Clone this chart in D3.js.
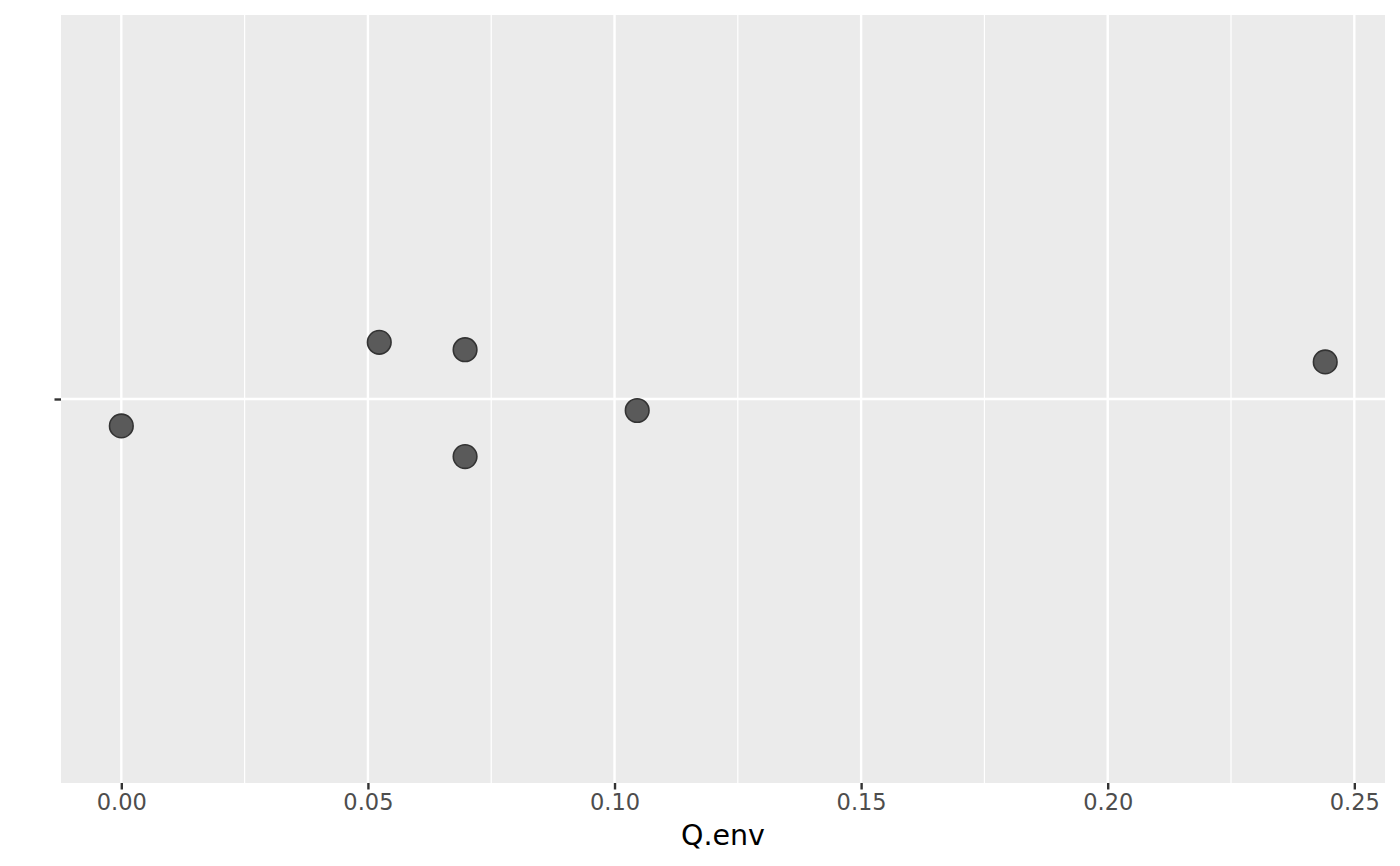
<!DOCTYPE html>
<html>
<head>
<meta charset="utf-8">
<script src="https://cdn.jsdelivr.net/npm/d3@7"></script>
<style>
  html, body { margin: 0; padding: 0; background: #ffffff; }
  svg { display: block; }
</style>
</head>
<body>
<svg id="chart" width="1400" height="866"></svg>
<script>
// ---- data ----
const qEnv = [0.0000, 0.0523, 0.0697, 0.0697, 0.1046, 0.2441];
const jitterY = [0.958, 1.0886, 1.077, 0.910, 0.982, 1.058];
const xTicks = [0.00, 0.05, 0.10, 0.15, 0.20, 0.25];
const xMinorTicks = [0.025, 0.075, 0.125, 0.175, 0.225];
const yCategories = [""];
const xTitle = "Q.env";

// ---- layout ----
const W = 1400, H = 866;
const panel = { left: 61, right: 1385, top: 15, bottom: 783 };

const svg = d3.select("#chart");

const x = d3.scaleLinear().domain([-0.01223, 0.25622]).range([panel.left, panel.right]);
const y = d3.scaleLinear().domain([0.4, 1.6]).range([panel.bottom, panel.top]);

// panel background
svg.append("rect")
  .attr("x", panel.left).attr("y", panel.top)
  .attr("width", panel.right - panel.left).attr("height", panel.bottom - panel.top)
  .attr("fill", "#ebebeb");

// minor grid
svg.append("g").selectAll("line").data(xMinorTicks).join("line")
  .attr("x1", d => x(d)).attr("x2", d => x(d))
  .attr("y1", panel.top).attr("y2", panel.bottom)
  .attr("stroke", "#ffffff").attr("stroke-width", 1.2);

// major grid
svg.append("g").selectAll("line").data(xTicks).join("line")
  .attr("x1", d => x(d)).attr("x2", d => x(d))
  .attr("y1", panel.top).attr("y2", panel.bottom)
  .attr("stroke", "#ffffff").attr("stroke-width", 2.4);

svg.append("g").selectAll("line").data(yCategories).join("line")
  .attr("x1", panel.left).attr("x2", panel.right)
  .attr("y1", () => y(1)).attr("y2", () => y(1))
  .attr("stroke", "#ffffff").attr("stroke-width", 2.4);

// x axis
const xAxis = d3.axisBottom(x).tickValues(xTicks).tickFormat(d3.format(".2f")).tickSize(6.5).tickPadding(5);
const gx = svg.append("g").attr("transform", `translate(0,${panel.bottom})`).call(xAxis);
gx.select(".domain").remove();
gx.selectAll(".tick line").attr("stroke", "#333333").attr("stroke-width", 2.4);
gx.selectAll(".tick text")
  .attr("fill", "#4d4d4d")
  .style("font-family", "DejaVu Sans, sans-serif")
  .style("font-size", "22.5px");

// y axis (single discrete category with empty label)
const yAxis = d3.axisLeft(y).tickValues([1]).tickFormat((d, i) => yCategories[i]).tickSize(6.5);
const gy = svg.append("g").attr("transform", `translate(${panel.left},0)`).call(yAxis);
gy.select(".domain").remove();
gy.selectAll(".tick line").attr("stroke", "#333333").attr("stroke-width", 2.4);

// x title
svg.append("text")
  .attr("x", (panel.left + panel.right) / 2)
  .attr("y", 845)
  .attr("text-anchor", "middle")
  .attr("fill", "#000000")
  .style("font-family", "DejaVu Sans, sans-serif")
  .style("font-size", "28.5px")
  .text(xTitle);

// points
svg.append("g").selectAll("circle").data(qEnv).join("circle")
  .attr("cx", d => x(d))
  .attr("cy", (d, i) => y(jitterY[i]))
  .attr("r", 11.8)
  .attr("fill", "#5a5a5a")
  .attr("stroke", "#333333")
  .attr("stroke-width", 1.6);
</script>
</body>
</html>
